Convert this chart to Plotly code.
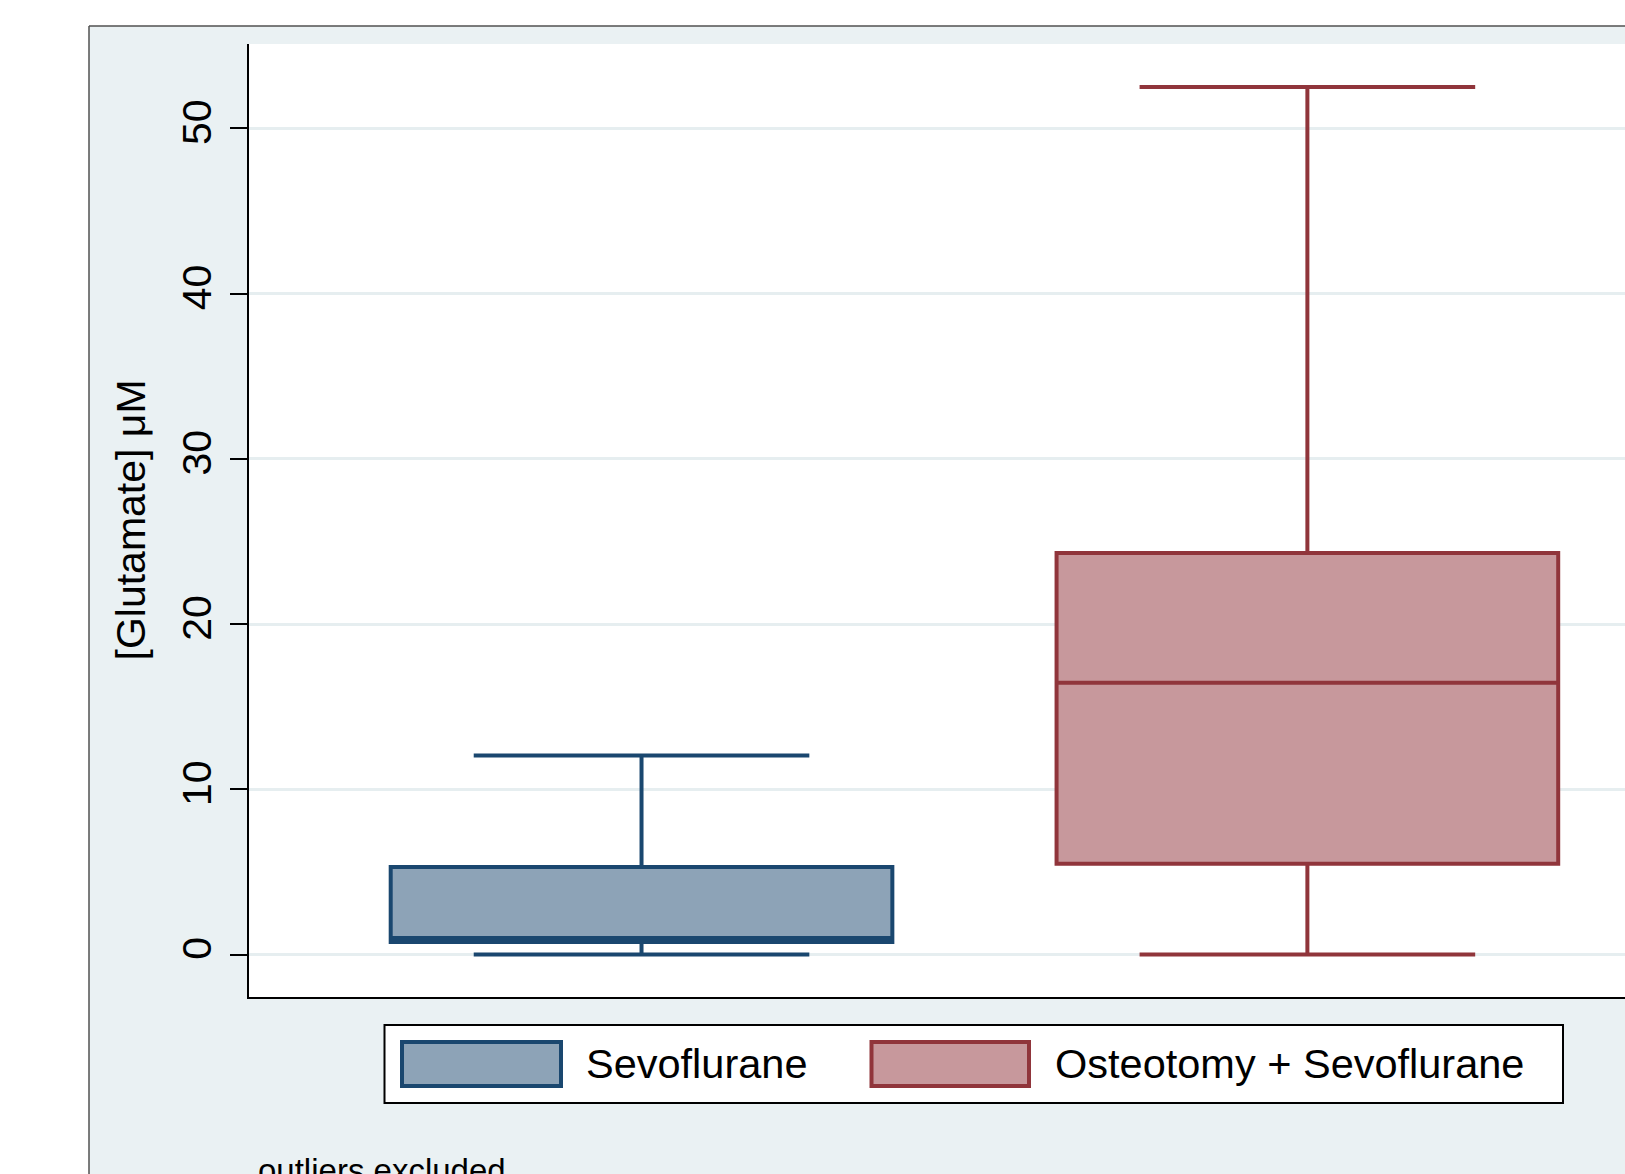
import plotly.graph_objects as go

# Glutamate concentration summaries (outliers excluded)
groups = ["Sevoflurane", "Osteotomy + Sevoflurane"]
lower_whisker = [0.0, 0.0]
q1_vals = [0.76, 5.5]
medians = [1.0, 16.45]
q3_vals = [5.3, 24.3]
upper_whisker = [12.05, 52.5]

line_colors = ["#1A476F", "#90353B"]
fill_colors = ["#8DA3B7", "#C7989C"]

y_ticks = [0, 10, 20, 30, 40, 50]
y_title = "[Glutamate] μM"
note = "outliers excluded"

W, H = 1625, 1174
M_L, M_R, M_T, M_B = 249, 0, 44, 177
PW, PH = W - M_L - M_R, H - M_T - M_B
FONT = "Liberation Sans, Arial, sans-serif"
BG = "#EAF1F3"


def px_x(p):
    return (p - M_L) / PW


def px_y(p):
    return (H - M_B - p) / PH


fig = go.Figure()
for i, name in enumerate(groups):
    fig.add_trace(go.Box(
        name=name,
        x=[i],
        q1=[q1_vals[i]],
        median=[medians[i]],
        q3=[q3_vals[i]],
        lowerfence=[lower_whisker[i]],
        upperfence=[upper_whisker[i]],
        width=0.7534,
        whiskerwidth=0.669,
        fillcolor=fill_colors[i],
        line=dict(color=line_colors[i], width=4),
        boxpoints=False,
        showlegend=False,
    ))

shapes = [
    # white surround outside the graph region frame
    dict(type="rect", xref="paper", yref="paper", x0=px_x(0), x1=px_x(89),
         y0=px_y(H + 10), y1=px_y(-10), fillcolor="white", line_width=0, layer="below"),
    dict(type="rect", xref="paper", yref="paper", x0=px_x(0), x1=px_x(W + 10),
         y0=px_y(26), y1=px_y(-10), fillcolor="white", line_width=0, layer="below"),
    # frame edges
    dict(type="line", xref="paper", yref="paper", x0=px_x(89), x1=px_x(89),
         y0=px_y(26), y1=px_y(H + 10), line=dict(color="#505050", width=1.5)),
    dict(type="line", xref="paper", yref="paper", x0=px_x(89), x1=px_x(W + 10),
         y0=px_y(26), y1=px_y(26), line=dict(color="#505050", width=1.5)),
    # legend box
    dict(type="rect", xref="paper", yref="paper", x0=px_x(384.5), x1=px_x(1563),
         y0=px_y(1103), y1=px_y(1025), fillcolor="white",
         line=dict(color="black", width=2)),
]

annotations = [
    dict(text=y_title, xref="paper", yref="paper", x=px_x(130), y=px_y(520.5),
         textangle=-90, showarrow=False, xanchor="center", yanchor="middle",
         font=dict(family=FONT, size=41, color="black")),
    dict(text=note, xref="paper", yref="paper", x=px_x(256), y=px_y(1170),
         showarrow=False, xanchor="left", yanchor="middle",
         font=dict(family=FONT, size=33, color="black")),
]

# legend entries: swatch + label
swatch_x = [(402, 561), (871.5, 1029)]
label_x = [584, 1053]
for i, name in enumerate(groups):
    x0, x1 = swatch_x[i]
    shapes.append(dict(type="rect", xref="paper", yref="paper",
                       x0=px_x(x0), x1=px_x(x1), y0=px_y(1086), y1=px_y(1042),
                       fillcolor=fill_colors[i],
                       line=dict(color=line_colors[i], width=4)))
    annotations.append(dict(text=name, xref="paper", yref="paper",
                            x=px_x(label_x[i]), y=px_y(1063), showarrow=False,
                            xanchor="left", yanchor="middle",
                            font=dict(family=FONT, size=41.5, color="black")))

fig.update_layout(
    width=W, height=H,
    margin=dict(l=M_L, r=M_R, t=M_T, b=M_B, pad=0),
    paper_bgcolor=BG,
    plot_bgcolor="white",
    boxmode="overlay",
    shapes=shapes,
    annotations=annotations,
    font=dict(family=FONT, size=40, color="black"),
)
fig.update_xaxes(
    range=[-0.5895, 1.477], showgrid=False, zeroline=False,
    showticklabels=False, ticks="", showline=True, linecolor="black", linewidth=2,
)
fig.update_yaxes(
    range=[-2.57, 55.11], tickvals=y_ticks, ticktext=[str(v) for v in y_ticks],
    tickangle=-90, ticks="outside", ticklen=17, tickwidth=2, tickcolor="black",
    showline=True, linecolor="black", linewidth=2, zeroline=False,
    showgrid=True, gridcolor="#E6EEF0", gridwidth=2.5,
    tickfont=dict(family=FONT, size=41, color="black"),
    ticklabelstandoff=3,
)

fig.write_html("out.html")
